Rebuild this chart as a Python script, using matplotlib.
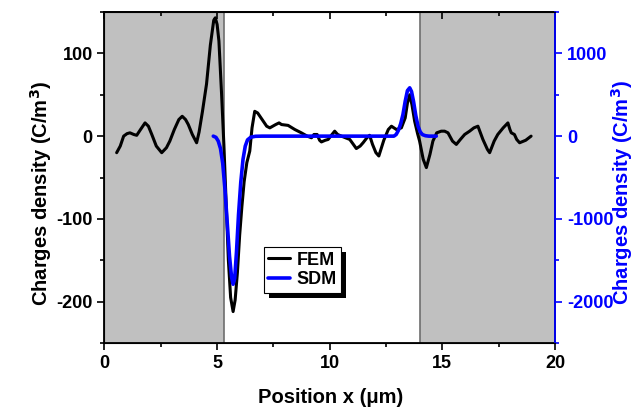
import matplotlib
matplotlib.use("Agg")
import matplotlib.pyplot as plt
from matplotlib.ticker import MultipleLocator, NullFormatter
from matplotlib.patches import Rectangle
from matplotlib.transforms import IdentityTransform

plt.rcParams['font.family'] = ['Liberation Sans', 'DejaVu Sans']
plt.rcParams['font.weight'] = 'bold'
plt.rcParams['mathtext.default'] = 'bf'
plt.rcParams['axes.unicode_minus'] = False

# FEM (left axis, C/m^3)
fem_x = [0.54, 0.7, 0.85, 1.0, 1.13, 1.3, 1.43, 1.6, 1.8, 1.95, 2.1, 2.3, 2.54, 2.75, 2.9,
         3.1, 3.3, 3.45, 3.6, 3.72, 3.9, 4.09, 4.2, 4.35, 4.53, 4.7, 4.85, 4.92, 5.0, 5.08,
         5.2, 5.3, 5.4, 5.5, 5.6, 5.71, 5.8, 5.9, 6.0, 6.1, 6.2, 6.32, 6.45, 6.55, 6.67, 6.8, 7.0,
         7.2, 7.34, 7.6, 7.75, 7.86, 8.15, 8.45, 8.74, 9.0, 9.19, 9.3, 9.44, 9.55, 9.63,
         9.8, 9.93, 10.1, 10.22, 10.35, 10.52, 10.7, 10.89, 11.05, 11.18, 11.35, 11.48,
         11.65, 11.77, 11.9, 12.05, 12.18, 12.4, 12.6, 12.74, 12.96, 13.18, 13.35, 13.45,
         13.55, 13.65, 13.77, 13.9, 13.99, 14.15, 14.29, 14.45, 14.58, 14.75, 14.95, 15.1,
         15.25, 15.45, 15.62, 15.8, 15.99, 16.21, 16.4, 16.58, 16.8, 17.0, 17.1, 17.3,
         17.46, 17.7, 17.91, 18.0, 18.06, 18.2, 18.3, 18.43, 18.7, 18.94]
fem_y = [-20, -12, 0, 3, 4, 2, 1, 8, 16, 12, 2, -12, -20, -14, -6,
         8, 20, 24, 20, 14, 2, -8, 5, 30, 63, 110, 140, 143, 135, 115,
         50, -10, -80, -150, -195, -212, -198, -165, -120, -85, -55, -32, -18, 10, 30, 28, 20,
         12, 10, 14, 16, 14, 13, 8, 4, 0, -2, 2, 2, -5, -7,
         -5, -4, 2, 6, 2, 0, -2, -4, -10, -15, -12, -8,
         -2, 1, -10, -20, -24, -5, 8, 12, 8, 10, 22, 40,
         50, 38, 18, 3, -6, -28, -38, -22, -6, 4, 6, 6,
         4, -6, -10, -4, 2, 6, 10, 12, -4, -16, -20, -6,
         2, 10, 16, 8, 4, 2, -4, -8, -5, 0]

# SDM (right axis, C/m^3)
sdm_x = [4.83, 4.95, 5.05, 5.15, 5.25, 5.35, 5.45, 5.55, 5.64, 5.71, 5.78, 5.86, 5.95,
         6.05, 6.15, 6.25, 6.35, 6.5, 6.7, 7.0, 9.0, 11.0, 12.85, 12.95, 13.05, 13.15,
         13.25, 13.35, 13.45, 13.55, 13.63, 13.72, 13.82, 13.92, 14.02, 14.12, 14.25,
         14.4, 14.73]
sdm_y = [0, -15, -60, -150, -330, -650, -1050, -1450, -1700, -1790, -1720, -1400, -950,
         -560, -280, -120, -45, -12, -2, 0, 0, 0, 0, 20, 70, 150,
         260, 420, 550, 584, 540, 420, 250, 120, 50, 18, 5,
         0, 0]

shade_regions = [(0, 5.3), (14.0, 20)]

fig = plt.figure(figsize=(6.36, 4.07), dpi=100)
ax = fig.add_axes([0.1643, 0.1572, 0.7083, 0.8133])
for a, b in shade_regions:
    ax.axvspan(a, b, color='#c0c0c0', lw=0, zorder=0)
ax.axvline(5.3, color='#6e6e6e', lw=1.2, zorder=1)
ax.axvline(14.0, color='#6e6e6e', lw=1.2, zorder=1)

l1, = ax.plot(fem_x, fem_y, color='black', lw=2.2, label='FEM', zorder=3,
              solid_joinstyle='round', solid_capstyle='round')
ax.set_xlim(0, 20)
ax.set_ylim(-250, 150)
ax.xaxis.set_major_locator(MultipleLocator(5))
ax.xaxis.set_minor_locator(MultipleLocator(2.5))
ax.yaxis.set_major_locator(MultipleLocator(100))
ax.yaxis.set_minor_locator(MultipleLocator(50))
ax.tick_params(axis='both', which='both', direction='out', labelsize=13, width=1.2)
ax.tick_params(which='major', length=5)
ax.tick_params(which='minor', length=3)
for s in ax.spines.values():
    s.set_linewidth(1.3)
ax.set_xlabel('Position x (μm)', fontsize=14.5, fontweight='bold')
ax.set_ylabel('Charges density (C/m$^3$)', fontsize=14.5, fontweight='bold')
ax.xaxis.set_label_coords(0.503, -0.137)
ax.yaxis.set_label_coords(-0.112, 0.452)

top = ax.secondary_xaxis('top')
top.xaxis.set_major_locator(MultipleLocator(5))
top.xaxis.set_minor_locator(MultipleLocator(2.5))
top.xaxis.set_major_formatter(NullFormatter())
top.tick_params(which='both', direction='in', width=1.2)
top.tick_params(which='major', length=5)
top.tick_params(which='minor', length=3)
top.spines['top'].set_linewidth(1.3)

ax2 = ax.twinx()
l2, = ax2.plot(sdm_x, sdm_y, color='#0000ff', lw=2.6, label='SDM', zorder=3,
               solid_joinstyle='round', solid_capstyle='round')
ax2.set_ylim(-2500, 1500)
ax2.yaxis.set_major_locator(MultipleLocator(1000))
ax2.yaxis.set_minor_locator(MultipleLocator(500))
ax2.tick_params(axis='y', which='both', direction='out', colors='#0000ff', labelsize=13, width=1.2)
ax2.tick_params(which='major', length=5)
ax2.tick_params(which='minor', length=3)
ax2.spines['right'].set_color('#0000ff')
ax2.spines['right'].set_linewidth(1.3)
ax2.set_ylabel('Charges density (C/m$^3$)', fontsize=14.5, fontweight='bold', color='#0000ff')
ax2.yaxis.set_label_coords(1.12, 0.456)
for lab in ax.get_xticklabels() + ax.get_yticklabels() + ax2.get_yticklabels():
    lab.set_fontweight('bold')

leg = ax2.legend([l1, l2], ['FEM', 'SDM'], loc='upper left', bbox_to_anchor=(0.354, 0.29),
                 fancybox=False, edgecolor='black', framealpha=1, shadow=False,
                 prop={'weight': 'bold', 'size': 13}, handlelength=1.2,
                 borderpad=0.25, labelspacing=0.15, handletextpad=0.35, borderaxespad=0)
leg.get_frame().set_linewidth(0.8)

fig.canvas.draw()
bb = leg.get_window_extent()
shadow = Rectangle((bb.x0 + 5, bb.y0 - 5), bb.width, bb.height, transform=IdentityTransform(),
                   facecolor='black', edgecolor='none', zorder=4.9)
ax2.add_artist(shadow)

fig.savefig('out.png', dpi=100)
